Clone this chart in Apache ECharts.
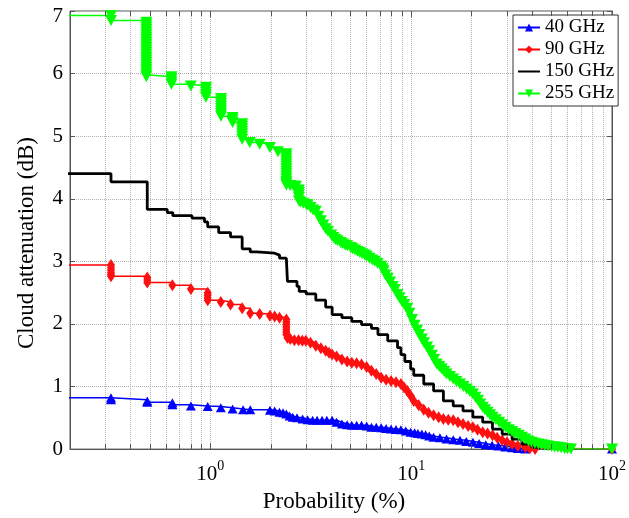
<!DOCTYPE html>
<html>
<head>
<meta charset="utf-8">
<script src="https://cdn.jsdelivr.net/npm/echarts@6/dist/echarts.min.js"></script>
<style>html,body{margin:0;padding:0;background:#fff}#c{width:629px;height:518px}</style>
</head>
<body>
<div id="c"></div>
<script>
// ---- data: [probability (%), cloud attenuation (dB)] ----
const seriesNames = ['40 GHz', '90 GHz', '150 GHz', '255 GHz'];

const s40 = [[0.15,0.82],[0.32,0.82],[0.32,0.79],[0.485,0.77],[0.485,0.75],[0.647,0.74],[0.647,0.71],[0.80,0.69],[0.97,0.68],[1.127,0.66],[1.29,0.64],[1.455,0.63],[1.58,0.63],[1.98,0.62],[2.09,0.61],[2.21,0.59],[2.3,0.58],[2.39,0.56],[2.48,0.53],[2.57,0.51],[2.7,0.5],[2.88,0.48],[3.05,0.47],[3.23,0.46],[3.4,0.46],[3.6,0.46],[3.8,0.46],[4.04,0.46],[4.25,0.43],[4.52,0.40],[4.8,0.39],[5.06,0.38],[5.35,0.38],[5.66,0.38],[6.0,0.37],[6.34,0.35],[6.7,0.35],[7.09,0.34],[7.5,0.33],[7.94,0.32],[8.4,0.315],[8.89,0.31],[9.4,0.29],[9.94,0.27],[10.4,0.26],[10.8,0.25],[11.3,0.24],[11.8,0.23],[12.3,0.21],[12.93,0.19],[13.9,0.18],[15.0,0.16],[16.2,0.15],[17.5,0.14],[18.8,0.12],[20.3,0.11],[21.8,0.09],[23.5,0.07],[25.3,0.06],[27.2,0.05],[29.4,0.035],[31.8,0.02],[34,0.01],[37,0],[100,0]];

const s90 = [[0.15,2.94],[0.32,2.94],[0.32,2.9],[0.32,2.86],[0.32,2.82],[0.32,2.79],[0.32,2.76],[0.485,2.74],[0.485,2.7],[0.485,2.66],[0.647,2.62],[0.80,2.56],[0.97,2.5],[0.97,2.46],[0.97,2.42],[0.97,2.38],[1.127,2.35],[1.26,2.31],[1.44,2.25],[1.58,2.17],[1.76,2.16],[1.98,2.13],[2.09,2.12],[2.21,2.1],[2.39,2.07],[2.39,2.03],[2.39,1.99],[2.39,1.95],[2.39,1.91],[2.39,1.87],[2.39,1.83],[2.42,1.78],[2.5,1.76],[2.62,1.74],[2.75,1.74],[2.87,1.73],[2.99,1.73],[3.15,1.7],[3.35,1.65],[3.55,1.61],[3.75,1.57],[3.9,1.54],[4.04,1.51],[4.25,1.48],[4.52,1.43],[4.8,1.4],[5.06,1.38],[5.35,1.37],[5.66,1.35],[6.0,1.31],[6.34,1.25],[6.7,1.2],[7.09,1.14],[7.5,1.11],[7.94,1.09],[8.4,1.07],[8.89,1.04],[9.2,0.99],[9.57,0.93],[9.9,0.86],[10.3,0.77],[10.9,0.7],[11.55,0.63],[12.2,0.58],[12.93,0.54],[13.7,0.51],[14.47,0.48],[15.3,0.47],[16.19,0.46],[17.1,0.43],[18.12,0.40],[19.2,0.37],[20.28,0.35],[21.4,0.31],[22.7,0.27],[24,0.25],[25.4,0.22],[26.8,0.18],[28.4,0.14],[30,0.11],[31.8,0.08],[34,0.05],[37,0.03],[39,0.015],[41.4,0],[100,0]];

const s150 = [[0.15,4.40],[0.32,4.40],[0.32,4.27],[0.485,4.27],[0.485,3.83],[0.61,3.83],[0.61,3.78],[0.65,3.78],[0.65,3.73],[0.81,3.73],[0.81,3.69],[0.935,3.69],[0.935,3.63],[0.97,3.63],[0.97,3.55],[1.1,3.55],[1.1,3.46],[1.26,3.44],[1.26,3.39],[1.44,3.39],[1.44,3.2],[1.58,3.15],[1.7,3.13],[2.09,3.1],[2.21,3.05],[2.39,3.02],[2.42,2.68],[2.7,2.6],[2.77,2.52],[3.0,2.48],[3.35,2.38],[3.75,2.27],[4.04,2.15],[4.52,2.1],[5.06,2.04],[5.66,1.99],[6.34,1.93],[6.83,1.83],[7.64,1.73],[8.55,1.62],[8.89,1.51],[9.3,1.4],[9.94,1.28],[10.3,1.18],[11.55,1.04],[12.93,0.93],[14.47,0.77],[16.19,0.69],[18.12,0.61],[20.28,0.51],[22.7,0.43],[25.4,0.32],[28.4,0.24],[31.8,0.16],[35.6,0.08],[39.9,0.03],[43,0]];

const s255 = [[0.15,6.93],[0.32,6.93],[0.32,6.85],[0.48,6.82],[0.48,6.78],[0.48,6.74],[0.48,6.7],[0.48,6.66],[0.48,6.62],[0.48,6.58],[0.48,6.54],[0.48,6.5],[0.48,6.46],[0.48,6.42],[0.48,6.38],[0.48,6.34],[0.48,6.3],[0.48,6.26],[0.48,6.22],[0.48,6.18],[0.48,6.14],[0.48,6.1],[0.48,6.06],[0.48,6.02],[0.48,5.98],[0.48,5.95],[0.64,5.95],[0.64,5.91],[0.64,5.87],[0.64,5.83],[0.80,5.8],[0.95,5.78],[0.95,5.74],[0.95,5.7],[0.95,5.66],[0.95,5.62],[1.13,5.6],[1.13,5.56],[1.13,5.52],[1.13,5.48],[1.13,5.44],[1.13,5.4],[1.13,5.36],[1.13,5.32],[1.29,5.3],[1.29,5.26],[1.29,5.22],[1.44,5.2],[1.44,5.16],[1.44,5.12],[1.44,5.08],[1.44,5.04],[1.44,5.0],[1.44,4.95],[1.57,4.9],[1.76,4.87],[1.98,4.82],[2.17,4.75],[2.39,4.72],[2.39,4.68],[2.39,4.64],[2.39,4.6],[2.39,4.56],[2.39,4.52],[2.39,4.48],[2.39,4.44],[2.39,4.4],[2.39,4.36],[2.39,4.32],[2.39,4.28],[2.39,4.25],[2.39,4.22],[2.5,4.21],[2.6,4.2],[2.67,4.2],[2.76,4.14],[2.76,4.1],[2.76,4.06],[2.76,4.02],[2.76,3.97],[2.8,3.95],[2.9,3.93],[3.0,3.91],[3.05,3.9],[3.15,3.86],[3.25,3.82],[3.35,3.8],[3.45,3.72],[3.55,3.65],[3.65,3.58],[3.75,3.52],[3.85,3.48],[4.0,3.42],[4.1,3.38],[4.19,3.35],[4.3,3.33],[4.45,3.3],[4.55,3.28],[4.69,3.26],[4.8,3.25],[5.0,3.22],[5.1,3.2],[5.25,3.18],[5.4,3.16],[5.55,3.14],[5.7,3.12],[5.88,3.1],[6.0,3.08],[6.2,3.05],[6.4,3.02],[6.58,3.0],[6.8,2.97],[7.09,2.92],[7.2,2.88],[7.3,2.85],[7.45,2.78],[7.64,2.73],[7.85,2.67],[8.1,2.6],[8.3,2.55],[8.55,2.47],[8.75,2.42],[9.0,2.36],[9.25,2.31],[9.57,2.25],[9.8,2.17],[10.1,2.07],[10.4,1.98],[10.7,1.9],[11.0,1.83],[11.3,1.76],[11.6,1.7],[12.0,1.63],[12.3,1.57],[12.7,1.5],[13.0,1.43],[13.4,1.36],[13.8,1.32],[14.2,1.28],[14.6,1.24],[15.0,1.2],[15.6,1.16],[16.2,1.12],[16.8,1.08],[17.5,1.04],[18.2,1.0],[18.9,0.96],[19.6,0.92],[20.3,0.88],[20.9,0.83],[21.5,0.78],[22.1,0.72],[22.7,0.67],[23.3,0.63],[24,0.59],[24.7,0.55],[25.4,0.51],[26.4,0.47],[27.4,0.43],[28.4,0.39],[29.5,0.35],[30.6,0.31],[31.8,0.28],[33,0.25],[34.3,0.22],[35.6,0.19],[37,0.16],[38.4,0.13],[39.8,0.11],[41.3,0.095],[43,0.08],[44.6,0.07],[46.3,0.06],[48,0.05],[50,0.04],[51.8,0.035],[53.8,0.03],[55.8,0.02],[58,0.01],[60,0.005],[62.5,0],[100,0]];

// minor vertical grid / tick positions (log-decade subdivisions)
const minorGrid = [0.3,0.4,0.5,0.6,0.7,0.8,0.9,2,3,4,5,6,7,8,9,20,30,40,50,60,70,80,90];
const Y_MIN = 0, Y_MAX = 7;
const minorTickLen = 0.08; // in dB units along the y axis

const FONT = '"Liberation Serif", "DejaVu Serif", serif';
const chart = echarts.init(document.getElementById('c'), null, {renderer: 'canvas'});

const gridLine = {color: '#b0b0b0', width: 1, type: 'dotted'};
const tickLine = {color: '#555', width: 1, type: 'solid'};

chart.setOption({
  animation: false,
  backgroundColor: '#fff',
  grid: {left: 70, right: 7, top: 11, bottom: 66, show: true, borderColor: '#555', borderWidth: 1},
  legend: {
    data: [
      {name: seriesNames[0]},
      {name: seriesNames[1]},
      {name: seriesNames[2], itemStyle: {color: 'rgba(0,0,0,0)', borderWidth: 0, opacity: 0}},
      {name: seriesNames[3]}
    ],
    orient: 'vertical',
    left: 513, top: 15,
    padding: [3, 4, 3, 4],
    itemWidth: 22, itemHeight: 10, itemGap: 3,
    backgroundColor: '#fff',
    borderColor: '#333', borderWidth: 1, borderRadius: 0,
    textStyle: {fontFamily: FONT, fontSize: 19, color: '#000', padding: [0, 0, 0, 0]}
  },
  xAxis: {
    type: 'log', logBase: 10, min: 0.2, max: 100,
    name: 'Probability (%)', nameLocation: 'middle', nameGap: 38,
    nameTextStyle: {fontFamily: FONT, fontSize: 23, color: '#000', padding: [0, 14, 0, 0]},
    axisLine: {show: true, lineStyle: {color: '#555'}},
    axisTick: {show: true, inside: true, length: 6, lineStyle: {color: '#555'}},
    splitLine: {show: true, lineStyle: gridLine},
    axisLabel: {
      margin: 10, color: '#000',
      formatter: function (v) {
        const e = Math.round(Math.log10(v));
        if (Math.abs(Math.pow(10, e) - v) > 1e-9) return '';
        return '{b|10}{s|' + e + '}';
      },
      rich: {
        b: {fontFamily: FONT, fontSize: 21, color: '#000', verticalAlign: 'bottom', lineHeight: 26},
        s: {fontFamily: FONT, fontSize: 14, color: '#000', verticalAlign: 'top', lineHeight: 14}
      }
    }
  },
  yAxis: [{
    type: 'value', min: Y_MIN, max: Y_MAX, interval: 1,
    name: 'Cloud attenuation (dB)', nameLocation: 'middle', nameGap: 32,
    nameTextStyle: {fontFamily: FONT, fontSize: 23, color: '#000', padding: [0, 26, 0, 0]},
    axisLine: {show: true, lineStyle: {color: '#555'}},
    axisTick: {show: true, inside: true, length: 5, lineStyle: {color: '#555'}},
    splitLine: {show: true, lineStyle: gridLine},
    axisLabel: {
      fontFamily: FONT, fontSize: 21, color: '#000', margin: 7,
      formatter: function (v) { return v === Y_MAX ? '{t|' + v + '}' : String(v); },
      rich: {t: {fontFamily: FONT, fontSize: 21, color: '#000', padding: [10, 0, 0, 0]}}
    }
  }, {
    type: 'value', min: Y_MIN, max: Y_MAX, interval: 1, position: 'right',
    axisLine: {show: true, lineStyle: {color: '#555'}},
    axisTick: {show: true, inside: true, length: 5, lineStyle: {color: '#555'}},
    splitLine: {show: false},
    axisLabel: {show: false}
  }],
  series: [
    {
      type: 'line', data: [[1, -5]], silent: true, z: 1, symbol: 'none',
      lineStyle: {width: 0},
      markLine: {
        silent: true, symbol: 'none', z: 1, animation: false,
        label: {show: false},
        lineStyle: gridLine,
        emphasis: {disabled: true},
        data: minorGrid.map(v => ({xAxis: v}))
      }
    },
    {
      type: 'line', data: [[1, -5]], silent: true, z: 7, symbol: 'none',
      lineStyle: {width: 0},
      markLine: {
        silent: true, symbol: 'none', z: 7, animation: false,
        label: {show: false},
        lineStyle: tickLine,
        emphasis: {disabled: true},
        data: minorGrid.map(v => [{coord: [v, Y_MIN]}, {coord: [v, Y_MIN + minorTickLen]}])
          .concat(minorGrid.map(v => [{coord: [v, Y_MAX - minorTickLen]}, {coord: [v, Y_MAX]}]))
          .concat([1, 10].map(v => [{coord: [v, Y_MAX - 0.1]}, {coord: [v, Y_MAX]}]))
      }
    },
    {
      name: seriesNames[0], type: 'line', data: s40, step: 'end', clip: true,
      symbol: 'triangle', symbolSize: [10, 9],
      lineStyle: {color: '#0000ff', width: 1.5},
      itemStyle: {color: '#0000ff'}, z: 3
    },
    {
      name: seriesNames[1], type: 'line', data: s90, step: 'end', clip: true,
      symbol: 'diamond', symbolSize: [8, 12],
      lineStyle: {color: '#ff0000', width: 1.5},
      itemStyle: {color: '#ff1010'}, z: 4
    },
    {
      name: seriesNames[2], type: 'line', data: s150, step: 'end', clip: true,
      symbol: 'none', showSymbol: false,
      lineStyle: {color: '#000000', width: 2.8},
      itemStyle: {color: '#000000'}, z: 5
    },
    {
      name: seriesNames[3], type: 'line', data: s255, step: 'end', clip: true,
      symbol: 'triangle', symbolRotate: 180, symbolSize: [12, 11],
      lineStyle: {color: '#00ff00', width: 1.5},
      itemStyle: {color: '#00ff00'}, z: 6
    }
  ]
});
</script>
</body>
</html>
